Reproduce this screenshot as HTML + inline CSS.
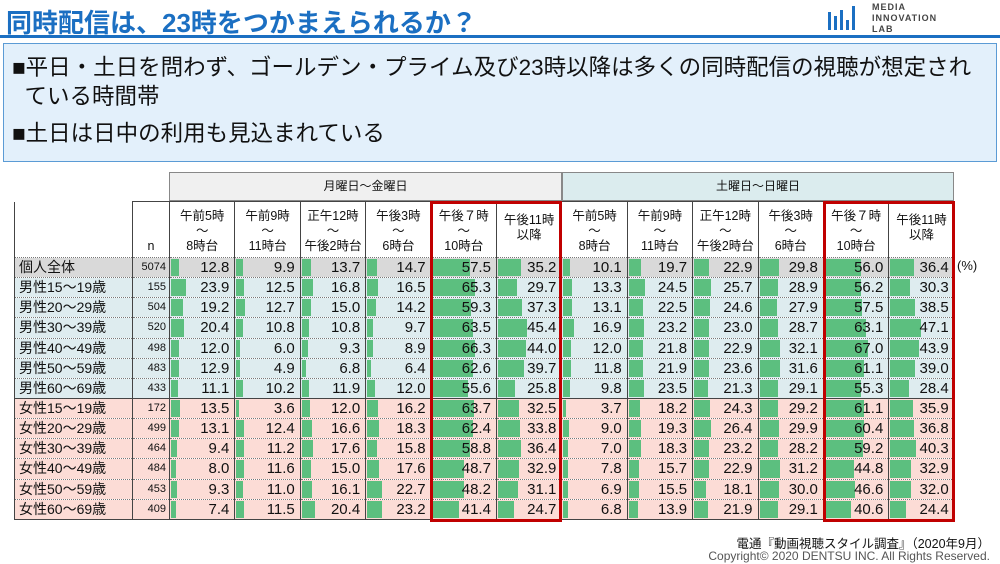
<!DOCTYPE html>
<html><head><meta charset="utf-8">
<style>
*{margin:0;padding:0;box-sizing:border-box}
body{width:1000px;height:564px;background:#fff;position:relative;overflow:hidden;font-family:"Liberation Sans","Noto Sans CJK JP",sans-serif;color:#111}
.title{position:absolute;left:6px;top:3px;font-size:26px;font-weight:bold;color:#1b6fc2;letter-spacing:0px}
.line{position:absolute;left:0;top:35px;width:1000px;height:3px;background:#1b6fc2}
.logo{position:absolute;left:828px;top:2px}
.box{position:absolute;left:3px;top:43px;width:994px;height:119px;background:#e3f0fb;border:1px solid #5b9bd5}
.box p{position:absolute;left:8px;font-size:22.5px;line-height:29px;color:#111;white-space:nowrap}
.gh{position:absolute;top:172px;height:29px;border:1px solid #888;font-size:12px;text-align:center;line-height:27px}
table{position:absolute;left:14px;top:201px;border-collapse:collapse;table-layout:fixed;width:940px}
td{position:relative;border-left:1px solid #444;border-right:1px solid #444;border-bottom:1px dotted #777;text-align:right;font-size:15px;padding-right:5px;line-height:17px;white-space:nowrap;padding-top:0;padding-bottom:0}
tr.d td{height:20.15px}
td i{position:absolute;left:1px;top:1px;bottom:1px;background:#5cbf7f}
td span{position:relative}
td.l{text-align:left;font-size:14px;padding-left:4px}
td.n{font-size:11px;padding-right:3px}
tr.h td{height:56px;text-align:center;font-size:12.5px;line-height:15px;padding:0;vertical-align:bottom;padding-bottom:3px;background:#fff;border-top:1px solid #444}
tr.a td{background:#d9d9d9}
tr.m td{background:#deecef}
tr.f td{background:#fcdcd6}
tr.fs td{border-top:1px solid #444}
tr:last-child td{border-bottom:1px solid #444}
.red{position:absolute;border:3px solid #c00000;top:201px;height:321px;width:132px}
.foot{position:absolute;right:10px;font-size:12px;text-align:right}
</style></head><body>
<div class="title">同時配信は、23時をつかまえられるか？</div>
<div class="line"></div>
<div class="logo">
<svg width="30" height="30"><rect x="0" y="10" width="3" height="18" fill="#1b6fc2"/><rect x="6" y="14" width="3" height="14" fill="#1b6fc2"/><rect x="12" y="8" width="3" height="20" fill="#1b6fc2"/><rect x="18" y="18" width="3" height="10" fill="#1b6fc2"/><rect x="24" y="4" width="3" height="24" fill="#1b6fc2"/></svg>
<div style="position:absolute;left:44px;top:0;font-size:9px;line-height:11px;font-weight:bold;color:#444;letter-spacing:1px">MEDIA<br>INNOVATION<br>LAB</div>
</div>
<div class="box">
<p style="top:9px">■平日・土日を問わず、ゴールデン・プライム及び23時以降は多くの同時配信の視聴が想定され<br>&nbsp;&nbsp;ている時間帯</p>
<p style="top:75px">■土日は日中の利用も見込まれている</p>
</div>
<div class="gh" style="left:169px;width:393px;background:#f0f0f0">月曜日～金曜日</div>
<div class="gh" style="left:562px;width:392px;background:#dbecee">土曜日～日曜日</div>
<table>
<colgroup><col style="width:118px"><col style="width:37px"><col span="12" style="width:65.4px"></colgroup>
<tr class="h"><td style="border-top:none;border-left:1px solid #444"></td><td>n</td>
<td>午前5時<br>～<br>8時台</td><td>午前9時<br>～<br>11時台</td><td>正午12時<br>～<br>午後2時台</td><td>午後3時<br>～<br>6時台</td><td>午後７時<br>～<br>10時台</td><td style="vertical-align:middle">午後11時<br>以降</td>
<td>午前5時<br>～<br>8時台</td><td>午前9時<br>～<br>11時台</td><td>正午12時<br>～<br>午後2時台</td><td>午後3時<br>～<br>6時台</td><td>午後７時<br>～<br>10時台</td><td style="vertical-align:middle">午後11時<br>以降</td></tr>
<tr class="d a"><td class="l">個人全体</td><td class="n">5074</td><td><i style="width:12.8%"></i><span>12.8</span></td><td><i style="width:9.9%"></i><span>9.9</span></td><td><i style="width:13.7%"></i><span>13.7</span></td><td><i style="width:14.7%"></i><span>14.7</span></td><td><i style="width:57.5%"></i><span>57.5</span></td><td><i style="width:35.2%"></i><span>35.2</span></td><td><i style="width:10.1%"></i><span>10.1</span></td><td><i style="width:19.7%"></i><span>19.7</span></td><td><i style="width:22.9%"></i><span>22.9</span></td><td><i style="width:29.8%"></i><span>29.8</span></td><td><i style="width:56.0%"></i><span>56.0</span></td><td><i style="width:36.4%"></i><span>36.4</span></td></tr>
<tr class="d m"><td class="l">男性15～19歳</td><td class="n">155</td><td><i style="width:23.9%"></i><span>23.9</span></td><td><i style="width:12.5%"></i><span>12.5</span></td><td><i style="width:16.8%"></i><span>16.8</span></td><td><i style="width:16.5%"></i><span>16.5</span></td><td><i style="width:65.3%"></i><span>65.3</span></td><td><i style="width:29.7%"></i><span>29.7</span></td><td><i style="width:13.3%"></i><span>13.3</span></td><td><i style="width:24.5%"></i><span>24.5</span></td><td><i style="width:25.7%"></i><span>25.7</span></td><td><i style="width:28.9%"></i><span>28.9</span></td><td><i style="width:56.2%"></i><span>56.2</span></td><td><i style="width:30.3%"></i><span>30.3</span></td></tr>
<tr class="d m"><td class="l">男性20～29歳</td><td class="n">504</td><td><i style="width:19.2%"></i><span>19.2</span></td><td><i style="width:12.7%"></i><span>12.7</span></td><td><i style="width:15.0%"></i><span>15.0</span></td><td><i style="width:14.2%"></i><span>14.2</span></td><td><i style="width:59.3%"></i><span>59.3</span></td><td><i style="width:37.3%"></i><span>37.3</span></td><td><i style="width:13.1%"></i><span>13.1</span></td><td><i style="width:22.5%"></i><span>22.5</span></td><td><i style="width:24.6%"></i><span>24.6</span></td><td><i style="width:27.9%"></i><span>27.9</span></td><td><i style="width:57.5%"></i><span>57.5</span></td><td><i style="width:38.5%"></i><span>38.5</span></td></tr>
<tr class="d m"><td class="l">男性30～39歳</td><td class="n">520</td><td><i style="width:20.4%"></i><span>20.4</span></td><td><i style="width:10.8%"></i><span>10.8</span></td><td><i style="width:10.8%"></i><span>10.8</span></td><td><i style="width:9.7%"></i><span>9.7</span></td><td><i style="width:63.5%"></i><span>63.5</span></td><td><i style="width:45.4%"></i><span>45.4</span></td><td><i style="width:16.9%"></i><span>16.9</span></td><td><i style="width:23.2%"></i><span>23.2</span></td><td><i style="width:23.0%"></i><span>23.0</span></td><td><i style="width:28.7%"></i><span>28.7</span></td><td><i style="width:63.1%"></i><span>63.1</span></td><td><i style="width:47.1%"></i><span>47.1</span></td></tr>
<tr class="d m"><td class="l">男性40～49歳</td><td class="n">498</td><td><i style="width:12.0%"></i><span>12.0</span></td><td><i style="width:6.0%"></i><span>6.0</span></td><td><i style="width:9.3%"></i><span>9.3</span></td><td><i style="width:8.9%"></i><span>8.9</span></td><td><i style="width:66.3%"></i><span>66.3</span></td><td><i style="width:44.0%"></i><span>44.0</span></td><td><i style="width:12.0%"></i><span>12.0</span></td><td><i style="width:21.8%"></i><span>21.8</span></td><td><i style="width:22.9%"></i><span>22.9</span></td><td><i style="width:32.1%"></i><span>32.1</span></td><td><i style="width:67.0%"></i><span>67.0</span></td><td><i style="width:43.9%"></i><span>43.9</span></td></tr>
<tr class="d m"><td class="l">男性50～59歳</td><td class="n">483</td><td><i style="width:12.9%"></i><span>12.9</span></td><td><i style="width:4.9%"></i><span>4.9</span></td><td><i style="width:6.8%"></i><span>6.8</span></td><td><i style="width:6.4%"></i><span>6.4</span></td><td><i style="width:62.6%"></i><span>62.6</span></td><td><i style="width:39.7%"></i><span>39.7</span></td><td><i style="width:11.8%"></i><span>11.8</span></td><td><i style="width:21.9%"></i><span>21.9</span></td><td><i style="width:23.6%"></i><span>23.6</span></td><td><i style="width:31.6%"></i><span>31.6</span></td><td><i style="width:61.1%"></i><span>61.1</span></td><td><i style="width:39.0%"></i><span>39.0</span></td></tr>
<tr class="d m"><td class="l">男性60～69歳</td><td class="n">433</td><td><i style="width:11.1%"></i><span>11.1</span></td><td><i style="width:10.2%"></i><span>10.2</span></td><td><i style="width:11.9%"></i><span>11.9</span></td><td><i style="width:12.0%"></i><span>12.0</span></td><td><i style="width:55.6%"></i><span>55.6</span></td><td><i style="width:25.8%"></i><span>25.8</span></td><td><i style="width:9.8%"></i><span>9.8</span></td><td><i style="width:23.5%"></i><span>23.5</span></td><td><i style="width:21.3%"></i><span>21.3</span></td><td><i style="width:29.1%"></i><span>29.1</span></td><td><i style="width:55.3%"></i><span>55.3</span></td><td><i style="width:28.4%"></i><span>28.4</span></td></tr>
<tr class="d f fs"><td class="l">女性15～19歳</td><td class="n">172</td><td><i style="width:13.5%"></i><span>13.5</span></td><td><i style="width:3.6%"></i><span>3.6</span></td><td><i style="width:12.0%"></i><span>12.0</span></td><td><i style="width:16.2%"></i><span>16.2</span></td><td><i style="width:63.7%"></i><span>63.7</span></td><td><i style="width:32.5%"></i><span>32.5</span></td><td><i style="width:3.7%"></i><span>3.7</span></td><td><i style="width:18.2%"></i><span>18.2</span></td><td><i style="width:24.3%"></i><span>24.3</span></td><td><i style="width:29.2%"></i><span>29.2</span></td><td><i style="width:61.1%"></i><span>61.1</span></td><td><i style="width:35.9%"></i><span>35.9</span></td></tr>
<tr class="d f"><td class="l">女性20～29歳</td><td class="n">499</td><td><i style="width:13.1%"></i><span>13.1</span></td><td><i style="width:12.4%"></i><span>12.4</span></td><td><i style="width:16.6%"></i><span>16.6</span></td><td><i style="width:18.3%"></i><span>18.3</span></td><td><i style="width:62.4%"></i><span>62.4</span></td><td><i style="width:33.8%"></i><span>33.8</span></td><td><i style="width:9.0%"></i><span>9.0</span></td><td><i style="width:19.3%"></i><span>19.3</span></td><td><i style="width:26.4%"></i><span>26.4</span></td><td><i style="width:29.9%"></i><span>29.9</span></td><td><i style="width:60.4%"></i><span>60.4</span></td><td><i style="width:36.8%"></i><span>36.8</span></td></tr>
<tr class="d f"><td class="l">女性30～39歳</td><td class="n">464</td><td><i style="width:9.4%"></i><span>9.4</span></td><td><i style="width:11.2%"></i><span>11.2</span></td><td><i style="width:17.6%"></i><span>17.6</span></td><td><i style="width:15.8%"></i><span>15.8</span></td><td><i style="width:58.8%"></i><span>58.8</span></td><td><i style="width:36.4%"></i><span>36.4</span></td><td><i style="width:7.0%"></i><span>7.0</span></td><td><i style="width:18.3%"></i><span>18.3</span></td><td><i style="width:23.2%"></i><span>23.2</span></td><td><i style="width:28.2%"></i><span>28.2</span></td><td><i style="width:59.2%"></i><span>59.2</span></td><td><i style="width:40.3%"></i><span>40.3</span></td></tr>
<tr class="d f"><td class="l">女性40～49歳</td><td class="n">484</td><td><i style="width:8.0%"></i><span>8.0</span></td><td><i style="width:11.6%"></i><span>11.6</span></td><td><i style="width:15.0%"></i><span>15.0</span></td><td><i style="width:17.6%"></i><span>17.6</span></td><td><i style="width:48.7%"></i><span>48.7</span></td><td><i style="width:32.9%"></i><span>32.9</span></td><td><i style="width:7.8%"></i><span>7.8</span></td><td><i style="width:15.7%"></i><span>15.7</span></td><td><i style="width:22.9%"></i><span>22.9</span></td><td><i style="width:31.2%"></i><span>31.2</span></td><td><i style="width:44.8%"></i><span>44.8</span></td><td><i style="width:32.9%"></i><span>32.9</span></td></tr>
<tr class="d f"><td class="l">女性50～59歳</td><td class="n">453</td><td><i style="width:9.3%"></i><span>9.3</span></td><td><i style="width:11.0%"></i><span>11.0</span></td><td><i style="width:16.1%"></i><span>16.1</span></td><td><i style="width:22.7%"></i><span>22.7</span></td><td><i style="width:48.2%"></i><span>48.2</span></td><td><i style="width:31.1%"></i><span>31.1</span></td><td><i style="width:6.9%"></i><span>6.9</span></td><td><i style="width:15.5%"></i><span>15.5</span></td><td><i style="width:18.1%"></i><span>18.1</span></td><td><i style="width:30.0%"></i><span>30.0</span></td><td><i style="width:46.6%"></i><span>46.6</span></td><td><i style="width:32.0%"></i><span>32.0</span></td></tr>
<tr class="d f"><td class="l">女性60～69歳</td><td class="n">409</td><td><i style="width:7.4%"></i><span>7.4</span></td><td><i style="width:11.5%"></i><span>11.5</span></td><td><i style="width:20.4%"></i><span>20.4</span></td><td><i style="width:23.2%"></i><span>23.2</span></td><td><i style="width:41.4%"></i><span>41.4</span></td><td><i style="width:24.7%"></i><span>24.7</span></td><td><i style="width:6.8%"></i><span>6.8</span></td><td><i style="width:13.9%"></i><span>13.9</span></td><td><i style="width:21.9%"></i><span>21.9</span></td><td><i style="width:29.1%"></i><span>29.1</span></td><td><i style="width:40.6%"></i><span>40.6</span></td><td><i style="width:24.4%"></i><span>24.4</span></td></tr>
</table>
<div class="red" style="left:430px"></div>
<div class="red" style="left:823px"></div>
<div style="position:absolute;left:957px;top:258px;font-size:13px">(%)</div>
<div class="foot" style="top:533px;font-size:12.5px">電通『動画視聴スタイル調査』（2020年9月）</div>
<div class="foot" style="top:549px;color:#555">Copyright© 2020 DENTSU INC. All Rights Reserved.</div>
</body></html>
